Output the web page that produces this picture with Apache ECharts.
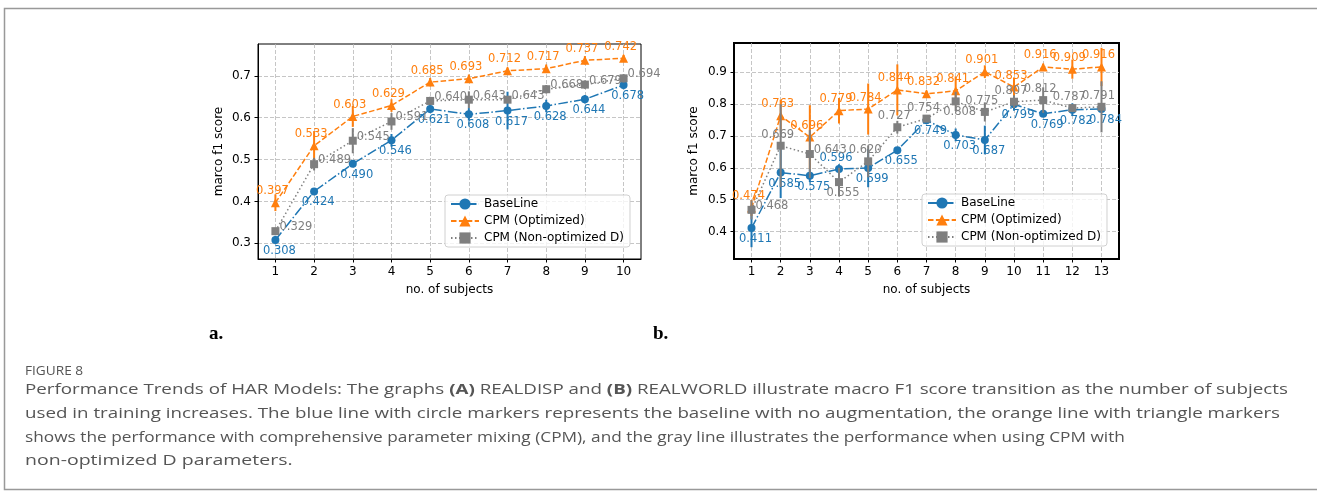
<!DOCTYPE html>
<html>
<head>
<meta charset="utf-8">
<script src="https://cdn.jsdelivr.net/npm/echarts@6/dist/echarts.min.js"></script>
<style>
html, body { margin: 0; padding: 0; background: #fff; }
#main { width: 1317px; height: 497px; }
</style>
</head>
<body>
<div id="main"></div>
<script>
var chartDom = document.getElementById('main');
var myChart = echarts.init(chartDom);

// (a) REALDISP
let subjectsA = [1, 2, 3, 4, 5, 6, 7, 8, 9, 10];
let baseA    = [0.308, 0.424, 0.490, 0.546, 0.621, 0.608, 0.617, 0.628, 0.644, 0.678];
let baseErrA = [0.010, 0.008, 0.008, 0.015, 0.010, 0.015, 0.045, 0.015, 0.010, 0.010];
let optA     = [0.397, 0.533, 0.603, 0.629, 0.685, 0.693, 0.712, 0.717, 0.737, 0.742];
let optErrA  = [0.020, 0.035, 0.025, 0.015, 0.010, 0.010, 0.008, 0.010, 0.010, 0.008];
let nonA     = [0.329, 0.489, 0.545, 0.591, 0.640, 0.643, 0.643, 0.668, 0.679, 0.694];
let nonErrA  = [0.005, 0.015, 0.030, 0.020, 0.010, 0.020, 0.008, 0.010, 0.010, 0.010];

// (b) REALWORLD
let subjectsB = [1, 2, 3, 4, 5, 6, 7, 8, 9, 10, 11, 12, 13];
let baseB    = [0.411, 0.585, 0.575, 0.596, 0.599, 0.655, 0.749, 0.703, 0.687, 0.799, 0.769, 0.782, 0.784];
let baseErrB = [0.060, 0.080, 0.020, 0.015, 0.060, 0.010, 0.010, 0.020, 0.045, 0.020, 0.010, 0.020, 0.010];
let optB     = [0.474, 0.763, 0.696, 0.779, 0.784, 0.844, 0.832, 0.841, 0.901, 0.853, 0.916, 0.909, 0.916];
let optErrB  = [0.025, 0.050, 0.100, 0.040, 0.080, 0.080, 0.010, 0.045, 0.020, 0.030, 0.010, 0.030, 0.060];
let nonB     = [0.468, 0.669, 0.643, 0.555, 0.620, 0.727, 0.754, 0.808, 0.775, 0.807, 0.812, 0.787, 0.791];
let nonErrB  = [0.030, 0.130, 0.075, 0.045, 0.050, 0.020, 0.010, 0.030, 0.030, 0.020, 0.040, 0.010, 0.080];

// where each value label sits in (b)
let baseSideB = ['bottom','bottom','bottom','top','bottom','bottom','bottom','bottom','bottom','bottom','bottom','bottom','bottom'];
let nonSideB  = ['right','top','right','bottom','top','top','top','bottom','top','top','top','top','top'];

let names = ['BaseLine', 'CPM (Optimized)', 'CPM (Non-optimized D)'];
let colors = ['#1f77b4', '#ff7f0e', '#7f7f7f'];
let font = 'DejaVu Sans';

function labelFor(side) {
  if (side == 'bottom') return { position: 'bottom', distance: 1, offset: [4, 0] };
  if (side == 'right') return { position: 'right', distance: 0, offset: [0, -4] };
  return { position: 'top', distance: 1, offset: [-3, 0] };
}

function lineSeries(k, grid, xs, ys, sides, z) {
  let symbols = ['circle', 'triangle', 'rect'];
  let sizes = [8, 9, 8];
  let dashes = [[9.6, 2.4, 1.5, 2.4], [5.5, 2.4], [1.5, 2.5]];
  return {
    name: names[k],
    type: 'line',
    xAxisIndex: grid,
    yAxisIndex: grid,
    z: z,
    symbol: symbols[k],
    symbolSize: sizes[k],
    itemStyle: { color: colors[k] },
    lineStyle: { color: colors[k], width: 1.5, type: dashes[k] },
    emphasis: { disabled: true },
    animation: false,
    label: {
      show: true,
      color: colors[k],
      fontFamily: font,
      fontSize: 11.5,
      formatter: function (p) { return p.value[1].toFixed(3); }
    },
    data: xs.map(function (x, i) {
      return { value: [x, ys[i]], label: labelFor(sides[i]) };
    })
  };
}

function errSeries(k, grid, xs, ys, errs, z) {
  return {
    type: 'custom',
    xAxisIndex: grid,
    yAxisIndex: grid,
    z: z,
    silent: true,
    animation: false,
    renderItem: function (params, api) {
      let x = api.value(0), y = api.value(1), e = api.value(2);
      let p1 = api.coord([x, y - e]);
      let p2 = api.coord([x, y + e]);
      return {
        type: 'line',
        shape: { x1: p1[0], y1: p1[1], x2: p2[0], y2: p2[1] },
        style: { stroke: colors[k], lineWidth: 2 }
      };
    },
    encode: { x: 0, y: 1 },
    data: xs.map(function (x, i) { return [x, ys[i], errs[i]]; })
  };
}

function fill(n, v) { let a = []; for (let i = 0; i < n; i++) a.push(v); return a; }

let gridLine = { show: true, showMinLine: false, showMaxLine: false,
  lineStyle: { color: '#b8b8b8', type: [4, 2], width: 0.8 } };

function xAxis(grid, min, max, width) {
  return {
    type: 'value', gridIndex: grid, min: min, max: max, minInterval: 1, maxInterval: 1,
    name: 'no. of subjects', nameLocation: 'middle', nameGap: 25,
    nameTextStyle: { fontFamily: font, fontSize: 12, color: '#000' },
    axisLine: { lineStyle: { color: '#000', width: width } },
    axisTick: { show: true, length: 3.5, lineStyle: { color: '#000' } },
    axisLabel: { fontFamily: font, fontSize: 12, color: '#000', margin: 7, showMinLabel: false, showMaxLabel: false },
    splitLine: gridLine
  };
}

function yAxis(grid, min, max, width, gap) {
  return {
    type: 'value', gridIndex: grid, min: min, max: max, minInterval: 0.1, maxInterval: 0.1,
    name: 'marco f1 score', nameLocation: 'middle', nameGap: gap,
    nameTextStyle: { fontFamily: font, fontSize: 12, color: '#000' },
    axisLine: { lineStyle: { color: '#000', width: width } },
    axisTick: { show: true, length: 3.5, lineStyle: { color: '#000' } },
    axisLabel: { fontFamily: font, fontSize: 12, color: '#000', margin: 7, showMinLabel: false, showMaxLabel: false,
      formatter: function (v) { return v.toFixed(1); } },
    splitLine: gridLine
  };
}

function legend(left, top) {
  return {
    data: names, orient: 'vertical', left: left, top: top,
    itemWidth: 28, itemHeight: 14, itemGap: 5,
    padding: [3, 6, 3, 5],
    backgroundColor: 'rgba(255,255,255,0.8)',
    borderColor: '#d0d0d0', borderWidth: 1, borderRadius: 3,
    textStyle: { fontFamily: font, fontSize: 12, color: '#000' },
    selectedMode: false
  };
}

// caption font in the source is a wide humanist sans, so Open Sans is stretched a little
let captionStyle = { fontFamily: 'Open Sans', fontSize: 15, fill: '#555' };
let boldCap = { b: { fontFamily: 'Open Sans', fontSize: 15, fontWeight: 'bold', fill: '#555' } };
function captionLine(text, y, sx) {
  return { type: 'text', x: 25, y: y, scaleX: sx, silent: true,
    style: Object.assign({ text: text, rich: boldCap }, captionStyle) };
}

let option = {
  animation: false,
  grid: [
    { left: 258, top: 44, width: 383, height: 215, show: true, borderColor: '#000', borderWidth: 1 },
    { left: 734, top: 43, width: 385, height: 216, show: true, borderColor: '#000', borderWidth: 2 }
  ],
  xAxis: [xAxis(0, 0.55, 10.45, 1), xAxis(1, 0.4, 13.6, 2)],
  yAxis: [yAxis(0, 0.2625, 0.776, 1, 33), yAxis(1, 0.314, 0.991, 2, 34)],
  legend: [legend(445, 195), legend(922, 194)],
  series: [
    errSeries(0, 0, subjectsA, baseA, baseErrA, 2),
    lineSeries(0, 0, subjectsA, baseA, fill(10, 'bottom'), 3),
    errSeries(1, 0, subjectsA, optA, optErrA, 4),
    lineSeries(1, 0, subjectsA, optA, fill(10, 'top'), 5),
    errSeries(2, 0, subjectsA, nonA, nonErrA, 6),
    lineSeries(2, 0, subjectsA, nonA, fill(10, 'right'), 7),
    errSeries(0, 1, subjectsB, baseB, baseErrB, 2),
    lineSeries(0, 1, subjectsB, baseB, baseSideB, 3),
    errSeries(1, 1, subjectsB, optB, optErrB, 4),
    lineSeries(1, 1, subjectsB, optB, fill(13, 'top'), 5),
    errSeries(2, 1, subjectsB, nonB, nonErrB, 6),
    lineSeries(2, 1, subjectsB, nonB, nonSideB, 7)
  ],
  graphic: [
    { type: 'polyline', shape: { points: [[1340, 489.5], [4.5, 489.5], [4.5, 8.5], [1340, 8.5]] },
      style: { fill: 'none', stroke: '#999', lineWidth: 1.5 }, silent: true },
    { type: 'text', left: 209, top: 325, style: { text: 'a.', fontFamily: 'Liberation Serif', fontWeight: 'bold', fontSize: 19, fill: '#000' } },
    { type: 'text', left: 653, top: 325, style: { text: 'b.', fontFamily: 'Liberation Serif', fontWeight: 'bold', fontSize: 19, fill: '#000' } },
    { type: 'text', x: 25, y: 365, scaleX: 1.05, style: { text: 'FIGURE 8', fontFamily: 'Open Sans', fontSize: 13, fill: '#555' } },
    captionLine('Performance Trends of HAR Models: The graphs {b|(A)} REALDISP and {b|(B)} REALWORLD illustrate macro F1 score transition as the number of subjects', 382, 1.25),
    captionLine('used in training increases. The blue line with circle markers represents the baseline with no augmentation, the orange line with triangle markers', 406, 1.25),
    captionLine('shows the performance with comprehensive parameter mixing (CPM), and the gray line illustrates the performance when using CPM with', 430, 1.15),
    captionLine('non-optimized D parameters.', 453, 1.3)
  ]
};

myChart.setOption(option);
</script>
</body>
</html>
